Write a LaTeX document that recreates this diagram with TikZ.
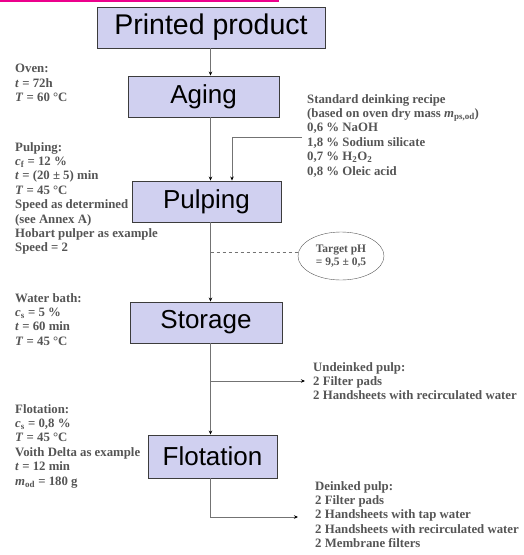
\documentclass[tikz,border=0pt]{standalone}
\usepackage{fontspec}
\setmainfont{Liberation Serif}
\newfontfamily\boxfont{Liberation Sans}
\usetikzlibrary{arrows.meta,shapes.geometric}
\definecolor{stagefill}{RGB}{208,208,240}
\definecolor{stageline}{RGB}{60,60,60}
\definecolor{notegray}{RGB}{85,85,85}
\tikzset{
  stage/.style={draw=stageline, fill=stagefill, line width=0.9pt, inner sep=0pt,
    minimum height=41pt, font=\boxfont\fontsize{26}{30}\selectfont},
  note/.style={anchor=north west, inner sep=0pt, align=left, text=notegray,
    font=\bfseries\fontsize{12.8}{14.4}\selectfont},
  flow/.style={draw=black!55, line width=0.8pt, -{Stealth[length=4pt,width=3.5pt,color=black]}},
}
\begin{document}
\begin{tikzpicture}[x=1pt,y=-1pt]
\useasboundingbox (0,0) rectangle (523,555);
\fill[magenta] (0,0) rectangle (279,2.2);
\coordinate (axis) at (210.5,0);

\node[stage, minimum width=228pt, font=\boxfont\fontsize{28.5}{32}\selectfont] (prod) at (211,27.5) {Printed product};
\node[stage, minimum width=151pt] (aging) at (203.5,96.5) {Aging};
\node[stage, minimum width=149pt] (pulp) at (206.5,201.5) {Pulping};
\node[stage, minimum width=152pt] (stor) at (206,322.5) {Storage};
\node[stage, minimum width=129pt, minimum height=43pt] (flot) at (212.5,456.5) {Flotation};

\node[note] (oven) at (15,64) {Oven:\\\textit{t} = 72h\\\textit{T} = 60 °C};
\node[note] (pulpcond) at (15,142) {Pulping:\\\textit{c}\textsubscript{f} = 12 \%\\\textit{t} = (20 ± 5) min\\\textit{T} = 45 °C\\Speed as determined\\(see Annex A)\\Hobart pulper as example\\Speed = 2};
\node[note] (bath) at (15,293) {Water bath:\\\textit{c}\textsubscript{s} = 5 \%\\\textit{t} = 60 min\\\textit{T} = 45 °C};
\node[note] (flotcond) at (15,404) {Flotation:\\\textit{c}\textsubscript{s} = 0,8 \%\\\textit{T} = 45 °C\\Voith Delta as example\\\textit{t} = 12 min\\\textit{m}\textsubscript{od} = 180 g};

\node[note] (recipe) at (307,94) {Standard deinking recipe\\(based on oven dry mass \textit{m}\textsubscript{ps,od})\\0,6 \% NaOH\\1,8 \% Sodium silicate\\0,7 \% H\textsubscript{2}O\textsubscript{2}\\0,8 \% Oleic acid};
\node[draw=black!65, ellipse, minimum width=86pt, minimum height=48pt, inner sep=0pt,
  align=center, text=notegray, font=\bfseries\fontsize{11.5}{13}\selectfont] (ph) at (341,256) {Target pH\\= 9,5 ± 0,5};
\node[note] (undeinked) at (313,362) {Undeinked pulp:\\2 Filter pads\\2 Handsheets with recirculated water};
\node[note] (deinked) at (315,481) {Deinked pulp:\\2 Filter pads\\2 Handsheets with tap water\\2 Handsheets with recirculated water\\2 Membrane filters};

\draw[flow] (prod.south -| axis) -- (aging.north -| axis);
\draw[flow] (aging.south -| axis) -- (pulp.north -| axis);
\draw[flow] (302,137) -| (232,0 |- pulp.north);
\draw[flow] (pulp.south -| axis) -- (stor.north -| axis);
\draw[draw=black!55, line width=0.8pt, dashed] (axis |- 0,252) -- (ph.west |- 0,252);
\draw[flow] (stor.south -| axis) -- (flot.north -| axis);
\draw[flow] (axis |- 0,381) -- (305,381);
\draw[flow] (flot.south -| axis) -- (axis |- 0,517) -- (298,517);
\end{tikzpicture}
\end{document}
